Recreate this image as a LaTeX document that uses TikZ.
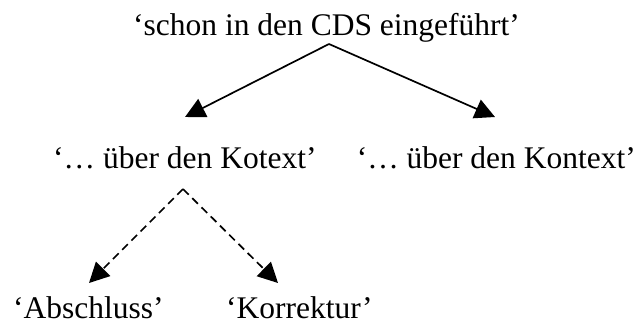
\documentclass[tikz,border=0pt]{standalone}
\usepackage{fontspec}
\setmainfont{Liberation Serif}
\usetikzlibrary{arrows.meta}
\begin{document}
\begin{tikzpicture}[x=1pt,y=-1pt,
  lbl/.style={inner sep=0pt,font=\fontsize{31.5}{37}\selectfont},
  arr/.style={line width=1.7pt,-{Triangle[length=20pt,width=20pt]}},
  darr/.style={arr,dash pattern=on 8pt off 5pt}]
\useasboundingbox (0,0) rectangle (638,325);
\node[lbl,anchor=base west] (top) at (133,35) {‘schon in den CDS eingeführt’};
\node[lbl,anchor=base west] (kotext) at (53,168) {‘… über den Kotext’};
\node[lbl,anchor=base east] (kontext) at (636,168) {‘… über den Kontext’};
\node[lbl,anchor=base west] (abs) at (13,318) {‘Abschluss’};
\node[lbl,anchor=base west] (korr) at (226,318) {‘Korrektur’};
\coordinate (a1) at (329,44);
\coordinate (t1) at (185,117);
\coordinate (t2) at (495,117);
\coordinate (a2) at (183,189);
\coordinate (t3) at (89,283);
\coordinate (t4) at (278,283);
\draw[arr] (a1) -- (t1);
\draw[arr] (a1) -- (t2);
\draw[darr] (a2) -- (t3);
\draw[darr] (a2) -- (t4);
\end{tikzpicture}
\end{document}
